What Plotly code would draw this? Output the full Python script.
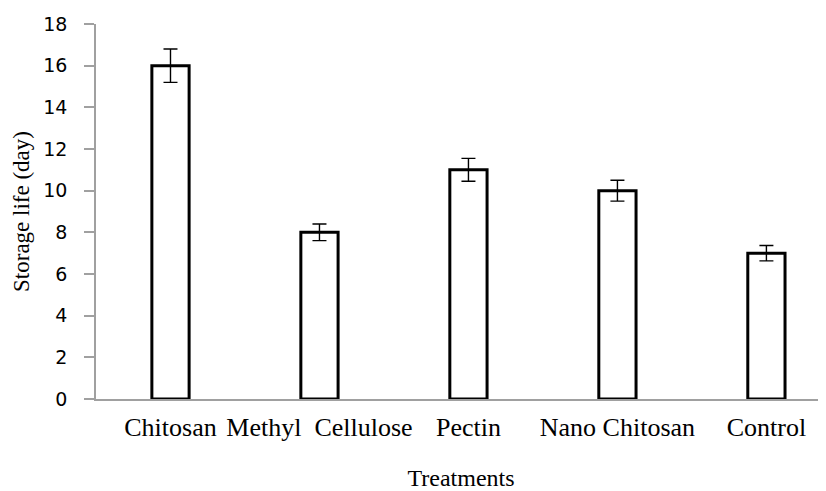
import plotly.graph_objects as go

categories = ["Chitosan", "Methyl  Cellulose", "Pectin", "Nano Chitosan", "Control"]
storage_life = [16, 8, 11, 10, 7]
error = [0.8, 0.4, 0.55, 0.5, 0.37]
y_ticks = [0, 2, 4, 6, 8, 10, 12, 14, 16, 18]

fig = go.Figure()
fig.add_trace(go.Bar(
    x=categories, y=storage_life,
    width=0.25,
    marker=dict(color="white", line=dict(color="black", width=3)),
    error_y=dict(type="data", array=error, visible=True, color="black", thickness=1.4, width=7),
))

# page body has an 8px margin, so the figure is sized/offset to compensate
fig.update_layout(
    width=818, height=483,
    margin=dict(l=88, r=0, t=16, b=92),
    plot_bgcolor="white", paper_bgcolor="white",
    showlegend=False,
    xaxis=dict(
        range=[-0.5, 4.4],
        showline=True, linecolor="#a0a0a0", linewidth=1.5,
        ticks="", showgrid=False,
        tickfont=dict(family="Liberation Serif", size=26, color="black"),
        ticklabelstandoff=4,
        title=dict(text="Treatments", font=dict(family="Liberation Serif", size=24, color="black"), standoff=32),
    ),
    yaxis=dict(
        range=[0, 18], tickvals=y_ticks,
        showline=True, linecolor="#a0a0a0", linewidth=1.5,
        ticks="outside", ticklen=10, tickcolor="#a0a0a0", tickwidth=1.5,
        showgrid=False, zeroline=False,
        tickfont=dict(family="DejaVu Sans", size=19, color="black"),
        ticklabelstandoff=13,
        title=dict(text="Storage life (day)", font=dict(family="Liberation Serif", size=23, color="black"), standoff=7),
    ),
)

fig.write_html("out.html")
